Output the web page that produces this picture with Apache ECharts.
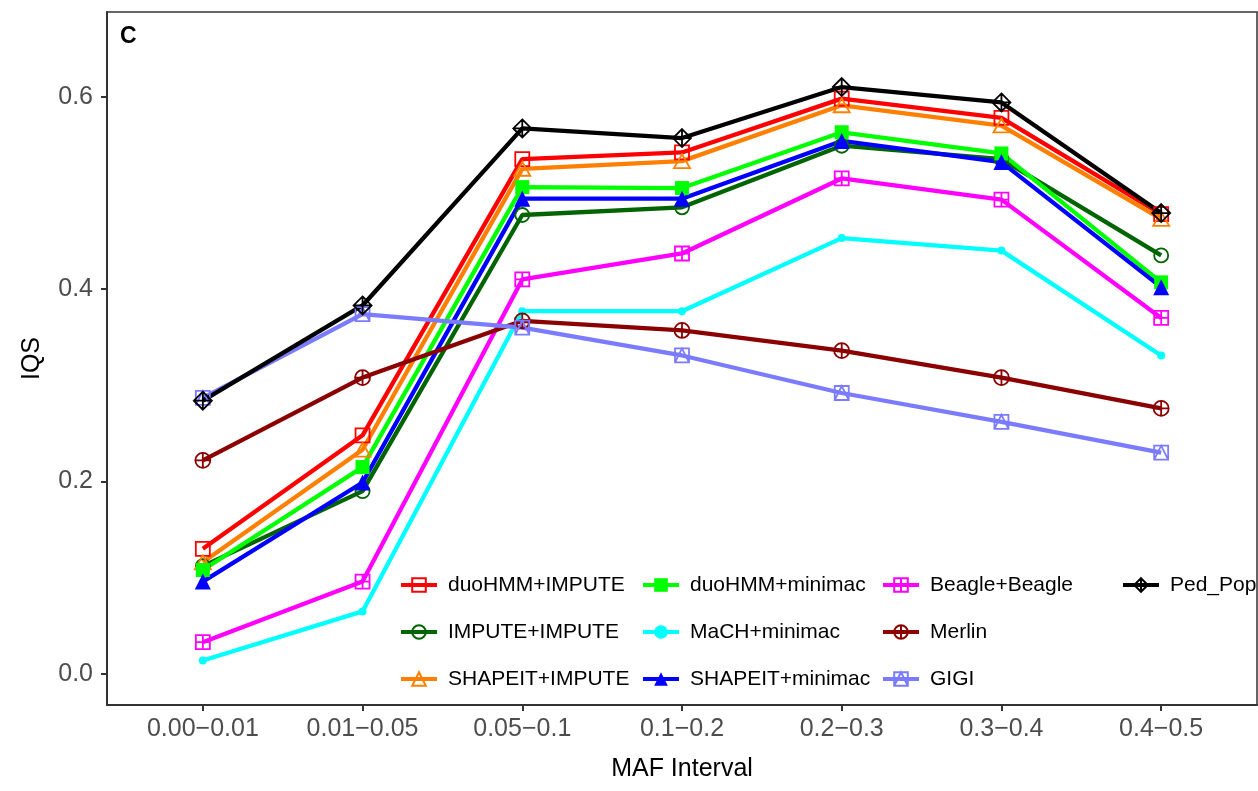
<!DOCTYPE html>
<html>
<head>
<meta charset="utf-8">
<script src="https://cdn.jsdelivr.net/npm/echarts@6/dist/echarts.min.js"></script>
<style>
html,body{margin:0;padding:0;background:#fff;}
#chart{width:1258px;height:791px;}
</style>
</head>
<body>
<div id="chart"></div>
<script>
// ---- data ----
const categories = ["0.00\u22120.01","0.01\u22120.05","0.05\u22120.1","0.1\u22120.2","0.2\u22120.3","0.3\u22120.4","0.4\u22120.5"];
const yTicks = [0, 0.2, 0.4, 0.6];
const duoHMM_IMPUTE   = [0.130, 0.248, 0.535, 0.542, 0.598, 0.578, 0.478];
const IMPUTE_IMPUTE   = [0.112, 0.190, 0.477, 0.485, 0.549, 0.535, 0.435];
const SHAPEIT_IMPUTE  = [0.116, 0.233, 0.525, 0.533, 0.591, 0.570, 0.473];
const duoHMM_minimac  = [0.108, 0.215, 0.506, 0.505, 0.563, 0.541, 0.407];
const MaCH_minimac    = [0.014, 0.065, 0.377, 0.377, 0.453, 0.440, 0.331];
const SHAPEIT_minimac = [0.096, 0.199, 0.494, 0.494, 0.554, 0.532, 0.402];
const Beagle_Beagle   = [0.033, 0.096, 0.410, 0.437, 0.515, 0.493, 0.370];
const Merlin          = [0.222, 0.308, 0.367, 0.357, 0.336, 0.308, 0.276];
const GIGI            = [0.287, 0.374, 0.360, 0.331, 0.292, 0.262, 0.230];
const Ped_Pop         = [0.284, 0.383, 0.567, 0.557, 0.610, 0.594, 0.479];

const FONT = "'Liberation Sans', Arial, Helvetica, sans-serif";

const P = {
  openSquare: 'path://M0,0 L10,0 L10,10 L0,10 Z',
  openCircle: 'path://M0,5 A5,5 0 1,1 10,5 A5,5 0 1,1 0,5 Z',
  openTriangle: 'path://M5,0 L10,8.66 L0,8.66 Z',
  squarePlus: 'path://M0,0 L10,0 L10,10 L0,10 Z M5,0 L5,10 M0,5 L10,5',
  circlePlus: 'path://M0,5 A5,5 0 1,1 10,5 A5,5 0 1,1 0,5 Z M5,0 L5,10 M0,5 L10,5',
  squareTri: 'path://M0,0 L10,0 L10,10 L0,10 Z M0,10 L5,0 L10,10',
  diamondPlus: 'path://M5,0 L10,5 L5,10 L0,5 Z M5,0 L5,10 M0,5 L10,5'
};

const defs = [
  {name:'duoHMM+IMPUTE',   data:duoHMM_IMPUTE,   color:'#FF0000', symbol:P.openSquare,   size:14, open:true},
  {name:'IMPUTE+IMPUTE',   data:IMPUTE_IMPUTE,   color:'#006400', symbol:P.openCircle,   size:14, open:true},
  {name:'SHAPEIT+IMPUTE',  data:SHAPEIT_IMPUTE,  color:'#FF7F00', symbol:P.openTriangle, size:16, open:true},
  {name:'duoHMM+minimac',  data:duoHMM_minimac,  color:'#00FF00', symbol:'rect',         size:14, open:false},
  {name:'MaCH+minimac',    data:MaCH_minimac,    color:'#00FFFF', symbol:'circle',       size:8,  open:false},
  {name:'SHAPEIT+minimac', data:SHAPEIT_minimac, color:'#0000FF', symbol:'triangle',     size:16, open:false},
  {name:'Beagle+Beagle',   data:Beagle_Beagle,   color:'#FF00FF', symbol:P.squarePlus,   size:14, open:true},
  {name:'Merlin',          data:Merlin,          color:'#8B0000', symbol:P.circlePlus,   size:15, open:true},
  {name:'GIGI',            data:GIGI,            color:'#7B7BFF', symbol:P.squareTri,    size:14, open:true},
  {name:'Ped_Pop',         data:Ped_Pop,         color:'#000000', symbol:P.diamondPlus,  size:18, open:true}
];

const series = defs.map(d => ({
  name: d.name,
  type: 'line',
  data: d.data.map((v, i) => [i, v]),
  symbol: d.symbol,
  symbolSize: d.size,
  symbolKeepAspect: true,
  showAllSymbol: true,
  lineStyle: {color: d.color, width: 4.3},
  itemStyle: d.open ? {color: 'none', borderColor: d.color, borderWidth: 1.8}
                    : {color: d.color, borderWidth: 0},
  emphasis: {disabled: true},
  animation: false
}));

function legendCol(names, left) {
  return {
    orient: 'vertical',
    left: left,
    top: 573,
    padding: 0,
    itemWidth: 36,
    itemHeight: 17,
    itemGap: 23,
    selectedMode: false,
    data: names,
    lineStyle: {width: 4},
    textStyle: {fontFamily: FONT, fontSize: 21, color: '#000', lineHeight: 24, padding: [0, 0, 0, 6]}
  };
}

const option = {
  backgroundColor: '#fff',
  animation: false,
  grid: {left: 107, right: 1, top: 12, bottom: 86, show: true, borderColor: '#333', borderWidth: 1.5, containLabel: false},
  xAxis: {
    type: 'value', min: -0.6, max: 6.6,
    name: 'MAF Interval', nameLocation: 'middle', nameGap: 52,
    nameTextStyle: {fontFamily: FONT, fontSize: 25, color: '#000'},
    axisLine: {show: true, onZero: false, lineStyle: {color: '#333', width: 2}},
    axisTick: {show: true, length: 6, lineStyle: {color: '#333', width: 2}, customValues: [0,1,2,3,4,5,6]},
    axisLabel: {customValues: [0,1,2,3,4,5,6], formatter: v => categories[Math.round(v)], fontFamily: FONT, fontSize: 25, color: '#4D4D4D', margin: 12},
    splitLine: {show: false}
  },
  yAxis: {
    type: 'value', min: -0.0323, max: 0.688,
    name: 'IQS', nameLocation: 'middle', nameGap: 62, nameRotate: 90,
    nameTextStyle: {fontFamily: FONT, fontSize: 25, color: '#000'},
    axisLine: {show: true, onZero: false, lineStyle: {color: '#333', width: 2}},
    axisTick: {show: true, length: 6, lineStyle: {color: '#333', width: 2}, customValues: yTicks},
    axisLabel: {customValues: yTicks, formatter: v => v.toFixed(1), fontFamily: FONT, fontSize: 25, color: '#4D4D4D', margin: 14},
    splitLine: {show: false}
  },
  legend: [
    legendCol(['duoHMM+IMPUTE','IMPUTE+IMPUTE','SHAPEIT+IMPUTE'], 399),
    legendCol(['duoHMM+minimac','MaCH+minimac','SHAPEIT+minimac'], 641),
    legendCol(['Beagle+Beagle','Merlin','GIGI'], 881),
    legendCol(['Ped_Pop'], 1121)
  ],
  graphic: [{
    type: 'text', left: 120, top: 25,
    style: {text: 'C', font: "bold 23px 'Liberation Sans', Arial, sans-serif", fill: '#000'}
  }],
  series: series
};

const chart = echarts.init(document.getElementById('chart'), null, {renderer: 'canvas'});
chart.setOption(option);
</script>
</body>
</html>
